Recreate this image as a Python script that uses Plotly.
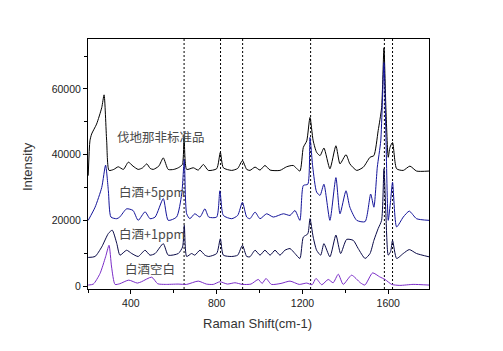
import plotly.graph_objects as go

# ---- data (wavenumber in cm-1, intensity in thousands of counts) ----
std_x = [201, 209, 217, 240, 264, 275, 287, 298, 320, 341, 365, 388, 410, 434, 455, 474, 490, 504, 530, 551,
         574, 600, 621, 640, 648, 660, 691, 714, 738, 761, 800, 817, 831, 870, 898, 920, 940, 955, 979, 1002,
         1025, 1049, 1095, 1126, 1157, 1188, 1204, 1220, 1235, 1250, 1266, 1282, 1300, 1328, 1356, 1375, 1403, 1421, 1453, 1484,
         1515, 1533, 1553, 1569, 1580, 1589, 1600, 1608, 1620, 1639, 1670, 1701, 1732, 1790]
std_k = [33.6, 44.2, 46.3, 49.3, 54.3, 58.2, 44.2, 35.2, 35.5, 36.3, 35.5, 37.7, 36.5, 35.5, 36, 37.2, 35.8, 35.5, 36.5, 39,
         35.5, 35.5, 36, 37, 45.5, 35.5, 36, 35.3, 37, 35.2, 35.7, 40.7, 36, 35.2, 35.8, 38.2, 35.5, 35.2, 36.2, 35.3,
         36.7, 35.3, 35.2, 36.3, 36.7, 35, 42.2, 44.2, 51.3, 44.2, 40.7, 39.7, 42, 35.7, 42.7, 37.2, 40, 37.2, 35.2, 36.2,
         39.2, 39.7, 47.3, 54.3, 72.5, 54.3, 39.2, 42.2, 43.7, 35.7, 35.2, 36.5, 35, 35]

p5_x = [201, 233, 264, 282, 295, 307, 334, 348, 380, 410, 434, 466, 489, 513, 551, 574, 613, 637, 649, 660,
        675, 698, 722, 745, 763, 800, 815, 831, 870, 898, 920, 940, 955, 979, 1002, 1033, 1064, 1111, 1142, 1165,
        1188, 1204, 1225, 1235, 1248, 1266, 1282, 1300, 1328, 1356, 1375, 1403, 1421, 1453, 1492, 1518, 1533, 1549, 1565, 1580,
        1589, 1600, 1611, 1620, 1639, 1670, 1698, 1732, 1790]
p5_k = [20, 24, 30, 36.8, 29, 21, 20.5, 21, 23.5, 23, 20, 22.6, 20.5, 21, 26.6, 20, 21, 28, 38.5, 22,
        20.5, 22, 21, 23.5, 21, 21, 29, 21.5, 20.5, 21.5, 25.5, 21, 20.5, 22.5, 20.5, 22, 21, 22, 21.5, 23,
        20, 30.6, 31, 45.2, 36.2, 28.6, 27.6, 31, 20, 33, 22, 29, 24, 20, 19.6, 28, 24, 36.2, 44.2, 68,
        46.3, 20, 26, 31.6, 18, 21, 22.8, 20.5, 20]

p1_x = [201, 233, 264, 295, 313, 334, 349, 380, 404, 434, 466, 489, 513, 551, 574, 621, 641, 649, 660, 683,
        698, 722, 745, 763, 800, 817, 831, 870, 898, 920, 940, 955, 979, 1002, 1025, 1049, 1072, 1095, 1118, 1142,
        1165, 1188, 1204, 1225, 1235, 1250, 1266, 1285, 1300, 1328, 1356, 1378, 1406, 1437, 1460, 1492, 1515, 1533, 1553, 1569,
        1580, 1589, 1600, 1611, 1620, 1639, 1670, 1698, 1732, 1790]
p1_k = [8.7, 9, 11.9, 16, 17, 13, 9.4, 10.9, 9.9, 9, 10.9, 9.4, 9.9, 12.9, 9.4, 9.9, 11.9, 18.5, 9, 9.9,
        9.4, 10.9, 9.4, 9, 9.9, 14.4, 9.4, 9, 9.4, 12.4, 9, 8.9, 10.9, 9.4, 10.9, 9.4, 10.9, 9.4, 10.9, 11.4,
        9.9, 8.4, 14.9, 15.9, 20.5, 14.9, 10.9, 9.4, 12.9, 8.9, 15.5, 9.9, 14.2, 13.9, 11.4, 8.4, 9.9, 13.9, 17.5, 20,
        35.7, 22, 9.4, 10.5, 13.9, 8.4, 9.9, 11.1, 9.9, 8.9]

blank_x = [201, 225, 256, 282, 298, 310, 326, 348, 390, 430, 449, 497, 525, 560, 620, 660, 714, 752, 784, 815,
           850, 885, 920, 960, 994, 1012, 1030, 1055, 1100, 1142, 1185, 1220, 1245, 1263, 1290, 1320, 1343, 1367, 1390, 1429,
           1470, 1491, 1527, 1560, 1585, 1616, 1654, 1716, 1790]
blank_k = [0.3, 0.6, 3.8, 8.9, 12.4, 5.8, 0.5, 0.7, 1.8, 0.9, 1.3, 2.7, 0.7, 0.5, 0.6, 0.5, 1.5, 0.6, 0.5, 1.3,
           0.6, 1.0, 0.5, 0.6, 2.0, 0.8, 2.3, 0.5, 0.8, 1.5, 0.5, 0.9, 0.4, 2.3, 0.4, 2.0, 1.0, 3.6, 0.5, 3.3,
           1.0, 0.3, 4.0, 2.8, 2.0, 0.5, 0.2, 0.5, 0.3]

marker_lines = [648, 818, 921, 1238, 1582, 1620]

labels = ["伐地那非标准品", "白酒+5ppm", "白酒+1ppm", "白酒空白"]
label_x = [540, 498, 498, 489]
label_y = [45.4, 28.8, 16.0, 5.2]

x_ticks = [400, 800, 1200, 1600]
y_ticks = [0, 20000, 40000, 60000]

series = [
    (std_x, std_k, "#000000"),
    (p5_x, p5_k, "#14149a"),
    (p1_x, p1_k, "#0a0a48"),
    (blank_x, blank_k, "#7a2cc8"),
]

fig = go.Figure()
for xs, ks, col in series:
    fig.add_trace(go.Scatter(
        x=xs, y=[k * 1000 for k in ks], mode="lines",
        line=dict(color=col, width=1, shape="spline", smoothing=0.6),
        showlegend=False, hoverinfo="skip"))

for xv in marker_lines:
    fig.add_shape(type="line", xref="x", yref="paper", x0=xv, x1=xv, y0=0, y1=1,
                  line=dict(color="black", width=1, dash="2px,2px"), layer="below")

for t, lx, ly in zip(labels, label_x, label_y):
    fig.add_annotation(x=lx, y=ly * 1000, text=t, showarrow=False,
                       font=dict(family="Noto Sans CJK SC, Liberation Sans", size=12.5, color="#4a4a4a"))

fig.add_annotation(xref="paper", yref="paper", x=0.4985, y=-0.175, text="Raman Shift(cm-1)",
                   showarrow=False, font=dict(family="Liberation Sans, Arial", size=13, color="#333"))
fig.add_annotation(xref="paper", yref="paper", x=-0.205, y=0.49, text="Intensity", textangle=-90,
                   showarrow=False, font=dict(family="Liberation Sans, Arial", size=13, color="#333"))

axis_common = dict(showline=True, linecolor="black", linewidth=1, mirror=True, showgrid=False,
                   zeroline=False, ticks="outside", ticklen=4, tickcolor="black",
                   tickfont=dict(family="Liberation Sans, Arial", size=10.5, color="#222"))

fig.update_xaxes(range=[200, 1790], tickvals=x_ticks, ticktext=[str(v) for v in x_ticks],
                 minor=dict(dtick=200, tick0=0, ticks="outside", ticklen=3, tickcolor="black"),
                 **axis_common)
fig.update_yaxes(range=[-900, 75200], tickvals=y_ticks, ticktext=[str(v) for v in y_ticks],
                 minor=dict(dtick=10000, tick0=0, ticks="outside", ticklen=3, tickcolor="black"),
                 **axis_common)

fig.update_layout(width=503, height=351, margin=dict(l=88, r=74, t=39, b=62),
                  paper_bgcolor="white", plot_bgcolor="white")

fig.write_html("out.html")
